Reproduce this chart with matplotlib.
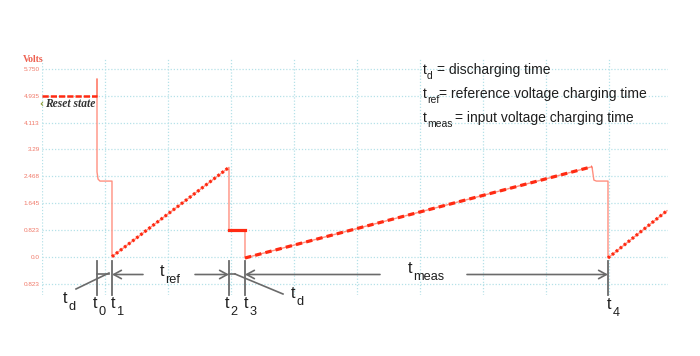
import matplotlib
matplotlib.use("Agg")
import matplotlib.pyplot as plt

# ---------------- data ----------------
ytick_vals = [-0.823, 0.0, 0.823, 1.645, 2.468, 3.29, 4.113, 4.935, 5.75]
ytick_labels = ["0.823", "0.0", "0.823", "1.645", "2.468", "3.29", "4.113", "4.935", "5.750"]

# thin continuous trace (time in grid divisions, volts)
trace_t = [0.873, 0.873, 0.873, 0.89, 0.92, 1.111, 1.111, 2.968, 2.968, 3.222, 3.222,
           8.73, 8.76, 8.80, 8.984, 8.984, 9.92]
trace_v = [4.935, 5.45, 2.60, 2.38, 2.32, 2.32, 0.0, 2.74, 0.82, 0.82, -0.04,
           2.76, 2.35, 2.32, 2.32, -0.04, 1.41]

reset_t = [0.0, 0.873]
reset_v = [4.935, 4.935]
ramp1_t = [1.111, 2.968]
ramp1_v = [0.0, 2.74]
hold_t = [2.968, 3.222]
hold_v = [0.82, 0.82]
ramp2_t = [3.222, 8.73]
ramp2_v = [-0.04, 2.76]
ramp3_t = [8.984, 9.92]
ramp3_v = [-0.04, 1.41]

event_names = ["0", "1", "2", "3", "4"]
event_t = [0.873, 1.111, 2.968, 3.222, 8.984]

legend_lines = [("d", "= discharging time"),
                ("ref", "= reference voltage charging time"),
                ("meas", "= input voltage charging time")]

# ---------------- figure ----------------
W, H = 700, 356
fig = plt.figure(figsize=(7.0, 3.56), dpi=100)
ax = fig.add_axes([42 / W, 1 - 295 / H, (668 - 42) / W, (295 - 58) / H])
ax.set_xlim(0, (668 - 42) / 63)
ax.set_ylim((256.7 - 295) / 32.6, (256.7 - 58) / 32.6)
for s in ax.spines.values():
    s.set_visible(False)

ax.set_xticks(range(0, 10))
ax.set_xticklabels([])
ax.set_yticks(ytick_vals)
ax.set_yticklabels(ytick_labels, color="#f07868", fontsize=4.6, family="Liberation Sans")
ax.tick_params(length=0, pad=1.5)
ax.grid(True, ls=(0, (1, 1.5)), color="#b5e1e8", lw=0.9)
ax.set_axisbelow(True)

red = "#ff2a12"
thin = "#ff9080"
ax.plot(trace_t, trace_v, color=thin, lw=1.0, zorder=3)
ax.plot(reset_t, reset_v, color=red, lw=1.8, dashes=(2.5, 0.8), zorder=4)
ax.plot(ramp1_t, ramp1_v, color=red, lw=2.3, dashes=(0.8, 0.8), zorder=4)
ax.plot(hold_t, hold_v, color=red, lw=2.3, zorder=4)
ax.plot(ramp2_t, ramp2_v, color=red, lw=2.3, dashes=(2.0, 1.3), zorder=4)
ax.plot(ramp3_t, ramp3_v, color=red, lw=2.3, dashes=(0.8, 0.8), zorder=4)

# ---------------- annotations ----------------
gray = "#6a6a6a"
txt = "#1e1e1e"
ya = -0.546
for t in event_t:
    ax.plot([t, t], [-0.12, -1.16], color=gray, lw=1.3, clip_on=False, zorder=5)

def arrow(x_head, x_tail):
    ax.annotate("", xy=(x_head, ya), xytext=(x_tail, ya),
                arrowprops=dict(arrowstyle="->,head_length=0.55,head_width=0.3",
                                color=gray, lw=1.2, shrinkA=0, shrinkB=0),
                annotation_clip=False)

ax.plot([event_t[0], 1.06], [ya, ya], color=gray, lw=1.2, clip_on=False)
ax.plot([0.54, 1.063], [-0.99, -0.50], color=gray, lw=1.2, clip_on=False)
arrow(event_t[1], 1.603)      # t_ref left
arrow(event_t[2], 2.429)      # t_ref right
ax.plot([event_t[2], 3.063], [ya, ya], color=gray, lw=1.2, clip_on=False)
ax.plot([3.063, 3.825], [-0.53, -1.144], color=gray, lw=1.2, clip_on=False)
arrow(event_t[3], 5.365)      # t_meas left
arrow(event_t[4], 6.746)      # t_meas right

def tlab(x, y, sub, size=11.5, subsize=9.2, dx=4.0, dy=-5.0):
    ax.text(x, y, "t", fontsize=size, color=txt, family="Liberation Sans",
            ha="left", va="baseline", clip_on=False)
    ax.annotate(sub, xy=(x, y), xytext=(dx, dy), textcoords="offset points",
                fontsize=subsize, color=txt, family="Liberation Sans",
                ha="left", va="baseline", annotation_clip=False)

tlab(0.333, -1.42, "d")
tlab(0.81, -1.58, event_names[0])
tlab(1.095, -1.58, event_names[1])
tlab(2.905, -1.58, event_names[2])
tlab(3.206, -1.58, event_names[3])
tlab(3.952, -1.27, "d")
tlab(8.968, -1.60, event_names[4])
tlab(1.873, -0.59, "ref")
tlab(5.81, -0.50, "meas")

# legend text block
eq_x = [437, 439, 455]
for i, (sub, rest) in enumerate(legend_lines):
    yb = 74 + 24 * i
    fig.text(423 / W, 1 - yb / H, "t", fontsize=10, color=txt, family="Liberation Sans",
             ha="left", va="baseline")
    fig.text(427 / W, 1 - (yb + 5) / H, sub, fontsize=7.5, color=txt,
             family="Liberation Sans", ha="left", va="baseline")
    fig.text(eq_x[i] / W, 1 - yb / H, rest, fontsize=10, color=txt,
             family="Liberation Sans", ha="left", va="baseline")

fig.text(23 / W, 1 - 59 / H, "Volts", fontsize=7, color="#ee6050", weight="bold",
         family="Liberation Serif", ha="left", va="center")
fig.text(39 / W, 1 - 104 / H, "\u2039", fontsize=7, color="#8a9a30", weight="bold",
         family="DejaVu Sans", ha="left", va="center")
fig.text(45 / W, 1 - 104 / H, "Reset state", fontsize=8.3, color="#333333",
         weight="bold", style="italic", family="Liberation Serif", ha="left", va="center")

fig.savefig("out.png", dpi=100)
